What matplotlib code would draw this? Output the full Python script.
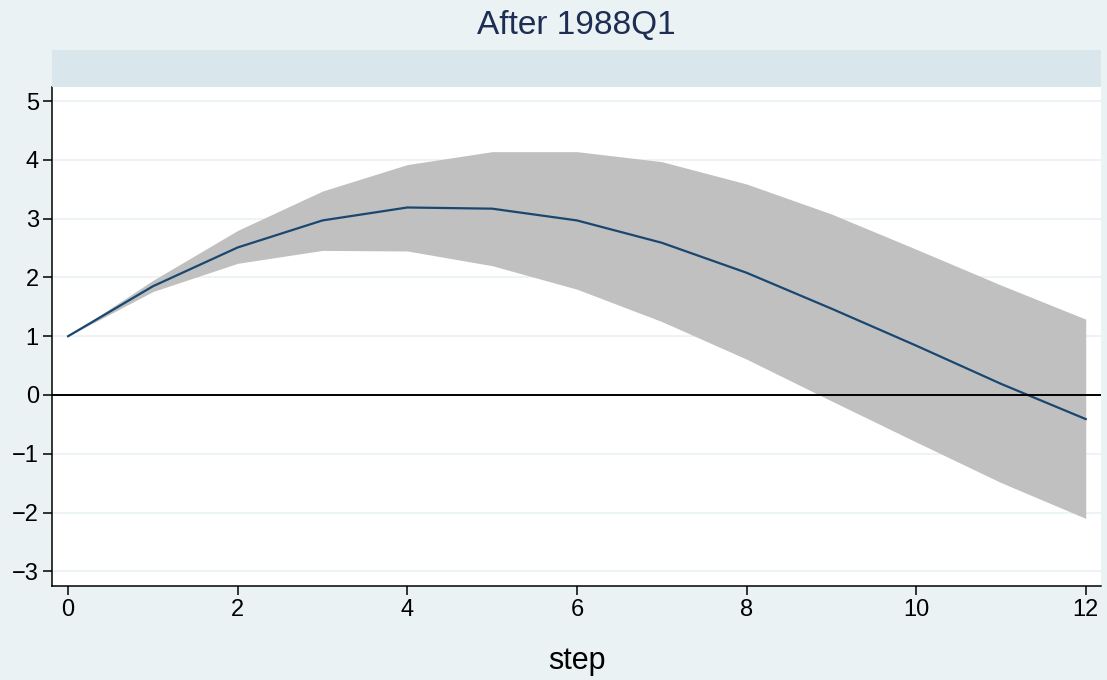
import numpy as np
import matplotlib.pyplot as plt
from matplotlib.patches import Rectangle

# Datos (respuesta al impulso con banda de confianza)
step = [0, 1, 2, 3, 4, 5, 6, 7, 8, 9, 10, 11, 12]
irf = [1.0, 1.85, 2.51, 2.97, 3.19, 3.17, 2.97, 2.59, 2.08, 1.47, 0.84, 0.19, -0.41]
upper = [1.0, 1.95, 2.80, 3.47, 3.92, 4.14, 4.14, 3.97, 3.59, 3.08, 2.48, 1.87, 1.29]
lower = [1.0, 1.76, 2.24, 2.46, 2.45, 2.20, 1.80, 1.25, 0.61, -0.10, -0.80, -1.49, -2.10]
titulo = "After 1988Q1"

plt.rcParams['font.family'] = ['Liberation Sans', 'DejaVu Sans']

bg = '#EAF2F3'
fig = plt.figure(figsize=(11.07, 6.8), dpi=100, facecolor=bg)
ax = fig.add_axes([52/1107, 94/680, (1101-52)/1107, (586-87)/680])
ax.set_facecolor('white')

# Franja superior estilo Stata
strip_y = (680-87)/680
fig.patches.append(Rectangle((52/1107, strip_y), (1101-52)/1107, 37/680,
                             transform=fig.transFigure, facecolor='#D9E6EB',
                             edgecolor='none'))
fig.text((52+1101)/2/1107, 1-26/680, titulo, ha='center', va='center',
         fontsize=24, color='#1E2D53')

ax.fill_between(step, lower, upper, color='#C0C0C0', linewidth=0, zorder=2)
ax.plot(step, irf, color='#1A476F', linewidth=1.6, zorder=3)
ax.axhline(0, color='black', linewidth=1.4, zorder=4)

ax.set_xlim(-0.19, 12.18)
ax.set_ylim(-3.25, 5.24)
ax.set_xticks(range(0, 13, 2))
ax.set_yticks(range(-3, 6))
ax.set_yticklabels([str(v).replace('-', '\u2212') for v in range(-3, 6)])
ax.grid(axis='y', color='#EAF2F3', linewidth=1.2, zorder=1)
ax.tick_params(labelsize=17, length=6.5, width=1.1, colors='black')
ax.tick_params(axis='y', pad=3)
ax.tick_params(axis='x', pad=3)
for s in ['top', 'right']:
    ax.spines[s].set_visible(False)
for s in ['left', 'bottom']:
    ax.spines[s].set_linewidth(1.1)
ax.set_xlabel("step", fontsize=22, labelpad=18)

fig.savefig("out.png", dpi=100, facecolor=bg)
